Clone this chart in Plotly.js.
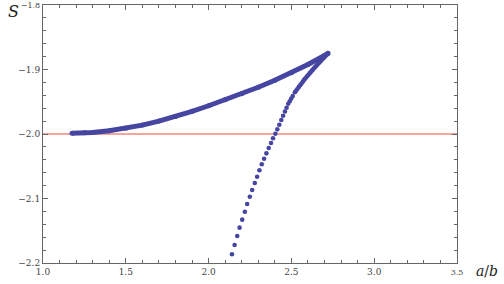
<!DOCTYPE html>
<html>
<head>
<meta charset="utf-8">
<script src="https://cdn.plot.ly/plotly-3.0.1.min.js"></script>
<style>html,body{margin:0;padding:0;background:#fff}#chart{width:504px;height:284px}</style>
</head>
<body>
<div id="chart"></div>
<script>
// Upper branch (dense points)
var upperX = [1.175, 1.25, 1.3, 1.4, 1.5, 1.6, 1.7, 1.8, 1.9, 2.0, 2.1, 2.2, 2.3, 2.4, 2.5, 2.6, 2.7, 2.721];
var upperY = [-1.9988, -1.9982, -1.9975, -1.9950, -1.9912, -1.9862, -1.9800, -1.9728, -1.9648, -1.9562, -1.9470, -1.9375, -1.9275, -1.9168, -1.9050, -1.8922, -1.8782, -1.8752];

// Lower branch (individual points)
var lowerX = [2.141, 2.157, 2.173, 2.187, 2.203, 2.219, 2.233, 2.249, 2.263, 2.279, 2.293, 2.307, 2.321, 2.335, 2.349, 2.363, 2.377, 2.389, 2.403,
  2.415, 2.427, 2.439, 2.450, 2.461, 2.471, 2.481, 2.490, 2.499, 2.508, 2.521, 2.529, 2.537, 2.545, 2.553, 2.561, 2.569, 2.576, 2.582,
  2.589, 2.596, 2.603, 2.610, 2.616, 2.622, 2.628, 2.634, 2.640, 2.646, 2.652, 2.658, 2.664, 2.670, 2.676, 2.682, 2.688, 2.694, 2.700,
  2.706, 2.712, 2.717, 2.721];
var lowerY = [-2.1865, -2.1721, -2.1581, -2.1452, -2.1328, -2.1205, -2.1085, -2.0972, -2.0868, -2.0760, -2.0662, -2.0563, -2.0470, -2.0383, -2.0300, -2.0217, -2.0140, -2.0067, -1.9995,
  -1.9928, -1.9856, -1.9784, -1.9718, -1.9652, -1.9592, -1.9532, -1.9492, -1.9451, -1.9411, -1.9352, -1.9325, -1.9298, -1.9270, -1.9243, -1.9216, -1.9188, -1.9164, -1.9144,
  -1.9123, -1.9102, -1.9081, -1.9060, -1.9042, -1.9024, -1.9006, -1.8988, -1.8970, -1.8953, -1.8937, -1.8920, -1.8904, -1.8887, -1.8871, -1.8854, -1.8838, -1.8821, -1.8805,
  -1.8788, -1.8772, -1.8758, -1.8745];

// Reference line
var refX = [1.0, 3.5];
var refY = [-2.0, -2.0];

// Tick labels
var xTickVals = [1.0, 1.5, 2.0, 2.5, 3.0, 3.5];
var xTickText = ['1.0', '1.5', '2.0', '2.5', '3.0', '<span style="font-size:8px">3.5</span>'];
var yTickVals = [-2.2, -2.1, -2.0, -1.9, -1.8];
var yTickText = ['\u22122.2', '\u22122.1', '\u22122.0', '\u22121.9', '<span style="font-size:8px">\u22121.8</span>'];

var serif = 'DejaVu Serif';
var blue = '#4646a2';
var traces = [
  {x: refX, y: refY, mode: 'lines', line: {color: 'rgb(242,135,122)', width: 1.5}, hoverinfo: 'skip'},
  {x: upperX, y: upperY, mode: 'lines+markers', line: {color: blue, width: 5}, marker: {color: blue, size: 5}},
  {x: lowerX, y: lowerY, mode: 'markers', marker: {color: blue, size: 4.6}}
];

var axisCommon = {
  showgrid: false, zeroline: false, showline: true, linecolor: '#666', linewidth: 1,
  mirror: 'ticks', ticks: 'inside', ticklen: 5, tickcolor: '#666', tickwidth: 1,
  tickfont: {family: serif, size: 9, color: '#444'},
  tickmode: 'array'
};

var layout = {
  width: 504, height: 284,
  margin: {l: 43, r: 47, t: 5, b: 21},
  paper_bgcolor: '#fff', plot_bgcolor: '#fff',
  showlegend: false,
  font: {family: serif, color: '#444'},
  xaxis: Object.assign({}, axisCommon, {
    range: [1.0, 3.5], tickvals: xTickVals, ticktext: xTickText,
    minor: {tickmode: 'linear', tick0: 1.0, dtick: 0.1, ticks: 'inside', ticklen: 3, tickcolor: '#666', tickwidth: 1}
  }),
  yaxis: Object.assign({}, axisCommon, {
    range: [-2.2, -1.8], tickvals: yTickVals, ticktext: yTickText,
    minor: {tickmode: 'linear', tick0: -2.2, dtick: 0.02, ticks: 'inside', ticklen: 3, tickcolor: '#666', tickwidth: 1}
  }),
  annotations: [
    {text: '<i>S</i>', xref: 'paper', yref: 'paper', x: -0.072, y: 0.975, showarrow: false,
     font: {family: serif, size: 16, color: '#222'}, xanchor: 'center', yanchor: 'middle'},
    {text: '<i>a</i>/<i>b</i>', xref: 'paper', yref: 'paper', x: 1.072, y: -0.03, showarrow: false,
     font: {family: serif, size: 14, color: '#222'}, xanchor: 'center', yanchor: 'middle'}
  ]
};

Plotly.newPlot('chart', traces, layout, {staticPlot: true, displayModeBar: false});
</script>
</body>
</html>
